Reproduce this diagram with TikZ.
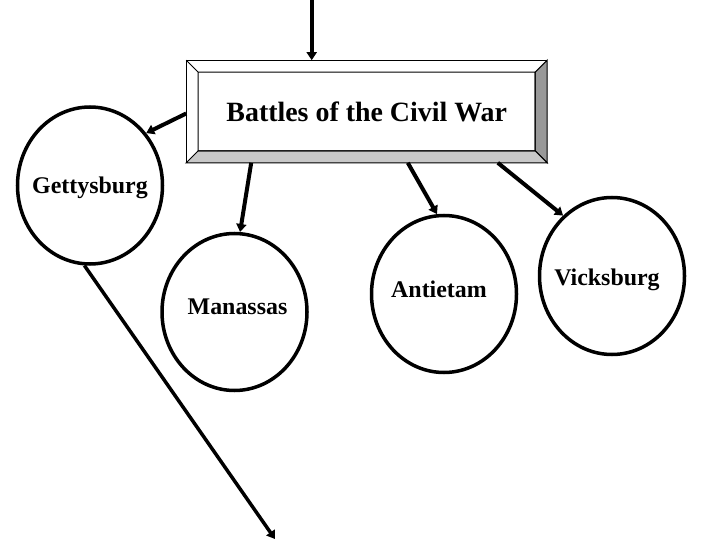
\documentclass[tikz,border=0pt]{standalone}
\usepackage{fontspec}
\setmainfont{Liberation Serif}
\usetikzlibrary{calc, arrows.meta, shapes.geometric}
\definecolor{bevelside}{HTML}{999999}
\definecolor{bevelbase}{HTML}{C8C8C8}

\begin{document}
\begin{tikzpicture}[x=1bp, y=-1bp,
    battle/.style={ellipse, draw=black, line width=3.5bp, inner sep=0pt,
        minimum width=145bp, minimum height=157bp},
    lbl/.style={font=\fontsize{24}{28}\selectfont\bfseries, inner sep=0pt},
    conn/.style={line width=4bp, -{Triangle[length=8bp, width=10bp]}}]
    \fill[white] (0,0) rectangle (720,540);
    \useasboundingbox (0,0) rectangle (720,540);

    \node[draw=black, line width=1bp, fill=white, inner sep=0pt,
        minimum width=360bp, minimum height=101.6bp,
        font=\fontsize{28}{32}\selectfont\bfseries]
        (wartitle) at (366.7,111.5) {Battles of the Civil War};

    \coordinate (inNW) at ([xshift=12bp, yshift=-12bp]wartitle.north west);
    \coordinate (inNE) at ([xshift=-12bp, yshift=-12bp]wartitle.north east);
    \coordinate (inSW) at ([xshift=12bp, yshift=12bp]wartitle.south west);
    \coordinate (inSE) at ([xshift=-12bp, yshift=12bp]wartitle.south east);

    \draw[line width=1bp, fill=bevelside]
        (wartitle.north east) -- (wartitle.south east) -- (inSE) -- (inNE) -- cycle;
    \draw[line width=1bp, fill=bevelbase]
        (wartitle.south west) -- (wartitle.south east) -- (inSE) -- (inSW) -- cycle;
    \draw[line width=1bp] (wartitle.north west) -- (inNW) (inNW) rectangle (inSE);

    \node[battle, label={[lbl, yshift=-2bp]center:Gettysburg}] (gett) at (90,185.5) {};
    \node[battle, label={[lbl, xshift=3bp, yshift=5bp]center:Manassas}] (mana) at (234.5,312) {};
    \node[battle, label={[lbl, xshift=-5bp, yshift=5bp]center:Antietam}] (anti) at (444,294) {};
    \node[battle, label={[lbl, xshift=-5bp, yshift=-4bp]center:Vicksburg}] (vick) at (612,276) {};

    \coordinate (feed) at (311.7,0);
    \coordinate (onward) at (275,539);

    \draw[conn] (feed) -- (feed |- wartitle.north);
    \draw[conn] ([yshift=-2bp]wartitle.west) -- (gett.43);
    \draw[conn] ([xshift=65bp]wartitle.south west) -- (mana.86);
    \draw[conn] ([xshift=221.6bp]wartitle.south west) -- (anti.95);
    \draw[conn] ([xshift=311.6bp]wartitle.south west) -- (vick.129);
    \draw[conn, line width=3.5bp] (gett.266) -- (onward);
\end{tikzpicture}
\end{document}
